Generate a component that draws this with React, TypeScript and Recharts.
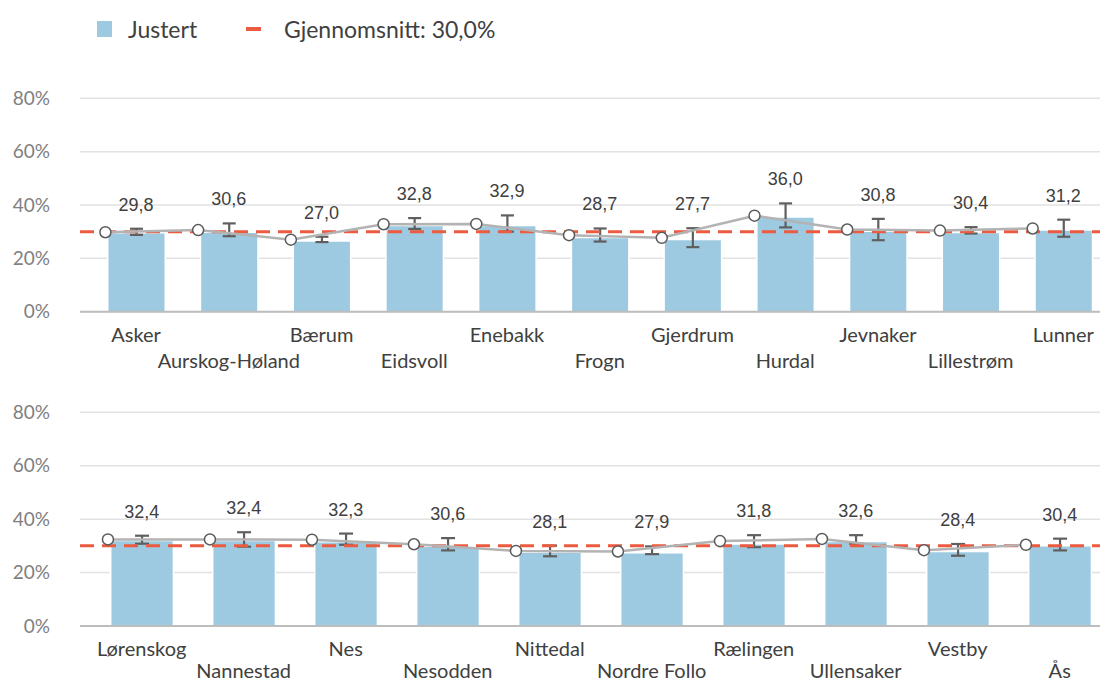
import { Bar, CartesianGrid, ComposedChart, ErrorBar, Line, ReferenceLine, Scatter, XAxis, YAxis } from 'recharts';

// øverste panel
const topKommuner = ['Asker', 'Aurskog-Høland', 'Bærum', 'Eidsvoll', 'Enebakk', 'Frogn', 'Gjerdrum', 'Hurdal', 'Jevnaker', 'Lillestrøm', 'Lunner'];
const topJustert = [29.6, 29.8, 26.5, 32.3, 32.3, 27.8, 27.1, 35.5, 30.2, 29.7, 30.6];
const topVerdi = [29.8, 30.6, 27.0, 32.8, 32.9, 28.7, 27.7, 36.0, 30.8, 30.4, 31.2];
const topLav = [28.8, 28.3, 26.1, 31.0, 30.0, 26.3, 24.2, 31.6, 26.8, 29.3, 28.1];
const topHoy = [31.1, 33.1, 28.1, 35.1, 36.1, 31.2, 31.3, 40.6, 34.8, 31.7, 34.5];

// nederste panel
const botKommuner = ['Lørenskog', 'Nannestad', 'Nes', 'Nesodden', 'Nittedal', 'Nordre Follo', 'Rælingen', 'Ullensaker', 'Vestby', 'Ås'];
const botJustert = [32.0, 32.0, 31.5, 29.9, 27.6, 27.4, 30.7, 31.6, 27.9, 30.0];
const botVerdi = [32.4, 32.4, 32.3, 30.6, 28.1, 27.9, 31.8, 32.6, 28.4, 30.4];
const botLav = [30.8, 29.7, 30.4, 28.3, 26.1, 26.9, 29.5, 30.8, 26.3, 28.3];
const botHoy = [33.8, 35.1, 34.6, 32.9, 30.1, 29.8, 34.0, 34.0, 30.7, 32.7];

const yTicks = [0, 20, 40, 60, 80];
const gjennomsnitt = 30;

const BAR_POS = 0.605; // søylens midtpunkt i kategorien
const DOT_POS = 0.274; // punktet ligger ved venstre søylekant

const BLUE = '#9ECAE1';
const RED = '#EC5B3F';
const TEXT = '#404040';

const fmt = (v: number) => v.toFixed(1).replace('.', ',');

function buildRows(names: string[], justert: number[], verdi: number[], lav: number[], hoy: number[]) {
  return names.map((name, i) => ({
    name,
    xb: i + BAR_POS,
    xl: i + DOT_POS,
    justert: justert[i],
    verdi: verdi[i],
    hoy: hoy[i],
    feil: [justert[i] - lav[i], hoy[i] - justert[i]],
  }));
}

const KommuneTick = (props: any) => {
  const { x, y, payload, names, row2 } = props;
  const i = Math.round(payload.value - BAR_POS);
  return (
    <text x={x} y={y + (i % 2 ? row2 : 30)} textAnchor="middle" fontFamily="Lato" fontSize={20} fill={TEXT}>
      {names[i]}
    </text>
  );
};

interface PanelProps {
  names: string[];
  rows: any[];
  top: number;
  height: number;
  marginTop: number;
  axisHeight: number;
  barSize: number;
  capWidth: number;
  row2: number;
}

function Panel({ names, rows, top, height, marginTop, axisHeight, barSize, capWidth, row2 }: PanelProps) {
  const n = names.length;
  return (
    <div style={{ position: 'absolute', left: 0, top }}>
      <ComposedChart width={1110} height={height} data={rows} margin={{ top: marginTop, right: 10, bottom: 0, left: 0 }}>
        <CartesianGrid vertical={false} stroke="#E2E2E2" strokeWidth={1.5} />
        <XAxis
          xAxisId="b"
          type="number"
          dataKey="xb"
          domain={[0, n]}
          ticks={rows.map((r) => r.xb)}
          interval={0}
          height={axisHeight}
          tickLine={false}
          tickSize={0}
          tickMargin={0}
          axisLine={{ stroke: '#BDBDBD', strokeWidth: 2 }}
          tick={(p: any) => <KommuneTick {...p} names={names} row2={row2} />}
        />
        <XAxis xAxisId="l" type="number" dataKey="xl" domain={[0, n]} hide />
        <YAxis
          domain={[0, 80]}
          ticks={yTicks}
          width={80}
          axisLine={false}
          tickLine={false}
          tickSize={0}
          tickMargin={30}
          tickFormatter={(v) => `${v}%`}
          tick={{ fill: '#808080', fontSize: 19, fontFamily: 'Lato' }}
        />
        <Bar xAxisId="b" dataKey="justert" fill={BLUE} stroke="#ffffff" strokeWidth={1.5} barSize={barSize} isAnimationActive={false}>
          <ErrorBar dataKey="feil" width={capWidth} stroke="#5F5F5F" strokeWidth={2.2} />
        </Bar>
        <ReferenceLine xAxisId="b" y={gjennomsnitt} stroke={RED} strokeWidth={3} strokeDasharray="14 8" />
        <Line
          xAxisId="l"
          dataKey="verdi"
          type="linear"
          stroke="#B3B3B3"
          strokeWidth={2.5}
          dot={{ r: 5.5, fill: '#ffffff', stroke: '#5A5A5A', strokeWidth: 1.5 }}
          activeDot={false}
          isAnimationActive={false}
        />
        <Scatter
          xAxisId="b"
          dataKey="hoy"
          isAnimationActive={false}
          shape={(p: any) => (
            <text x={p.cx} y={p.cy - 18} textAnchor="middle" fontFamily="Liberation Sans" fontSize={18} fill={TEXT}>
              {fmt(p.payload.verdi)}
            </text>
          )}
        />
      </ComposedChart>
    </div>
  );
}

export default function App() {
  const topRows = buildRows(topKommuner, topJustert, topVerdi, topLav, topHoy);
  const botRows = buildRows(botKommuner, botJustert, botVerdi, botLav, botHoy);

  return (
    <div style={{ position: 'absolute', left: 0, top: 0, width: 1110, height: 681, overflow: 'hidden', background: '#fff' }}>
      {/* legend */}
      <div style={{ position: 'absolute', left: 97, top: 21, width: 15, height: 16, background: BLUE }} />
      <div style={{ position: 'absolute', left: 128, top: 14, fontFamily: 'Lato', fontSize: 23, color: TEXT, lineHeight: '30px' }}>Justert</div>
      <div style={{ position: 'absolute', left: 246, top: 27, width: 15, height: 4, background: RED }} />
      <div style={{ position: 'absolute', left: 284, top: 14, fontFamily: 'Lato', fontSize: 23, color: TEXT, lineHeight: '30px' }}>
        Gjennomsnitt: 30,0%
      </div>

      <Panel names={topKommuner} rows={topRows} top={0} height={385} marginTop={98.3} axisHeight={73.3} barSize={57.5} capWidth={6.5} row2={56} />
      <Panel names={botKommuner} rows={botRows} top={330} height={351} marginTop={82.3} axisHeight={55} barSize={62.7} capWidth={7} row2={52} />
    </div>
  );
}
